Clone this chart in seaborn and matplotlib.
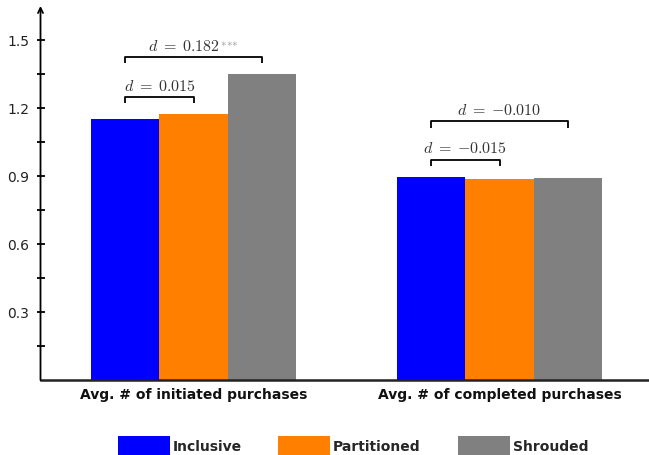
import matplotlib
matplotlib.use("Agg")
import matplotlib.pyplot as plt
import seaborn as sns
import pandas as pd
from matplotlib.patches import Patch
from matplotlib.offsetbox import TextArea, HPacker, AnnotationBbox

# Outcome measures and pricing conditions
measures = ["Avg. # of initiated purchases", "Avg. # of completed purchases"]
conditions = ["Inclusive", "Partitioned", "Shrouded"]

inclusive = [1.150, 0.896]
partitioned = [1.172, 0.887]
shrouded = [1.348, 0.891]

# Effect sizes (Cohen's d) relative to the Inclusive condition
d_partitioned = [0.015, -0.015]
d_shrouded = [0.182, -0.010]
sig_partitioned = ["", ""]
sig_shrouded = ["***", ""]

colors = ["#0000FF", "#FF8000", "#808080"]

df = pd.DataFrame({
    "measure": measures * 3,
    "condition": [c for c in conditions for _ in measures],
    "value": inclusive + partitioned + shrouded,
})

sns.set_style("white")
plt.rcParams["font.family"] = ["DejaVu Sans"]
plt.rcParams["mathtext.fontset"] = "cm"

W, H = 649, 456
fig = plt.figure(figsize=(W / 100, H / 100), dpi=100)
ax = fig.add_axes([40.5 / W, 75 / H, (W - 40.5) / W, 374 / H])

sns.barplot(data=df, x="measure", y="value", hue="condition",
            hue_order=conditions, order=measures, palette=colors,
            width=0.67, saturation=1, errorbar=None, ax=ax, legend=False,
            linewidth=0, edgecolor="none")

ax.set_xlim(-0.5, -0.5 + (W - 40.5) / 306)
ax.set_ylim(0, 374 / 227)
ax.set_xlabel("")
ax.set_ylabel("")

# Axes: left spine with arrow, heavy baseline
for s in ["top", "right", "left"]:
    ax.spines[s].set_visible(False)
ax.spines["bottom"].set_color("#222222")
ax.spines["bottom"].set_linewidth(1.8)
ax.annotate("", xy=(0, 1), xytext=(0, 0), xycoords="axes fraction",
            arrowprops=dict(arrowstyle="->", lw=1.3, color="black",
                            shrinkA=0, shrinkB=0, mutation_scale=9))

ax.set_yticks([0.3, 0.6, 0.9, 1.2, 1.5])
ax.set_yticklabels(["0.3", "0.6", "0.9", "1.2", "1.5"])
ax.set_yticks([0.15, 0.45, 0.75, 1.05, 1.35], minor=True)
ax.tick_params(axis="y", which="both", direction="inout", length=6,
               width=1.3, color="black", left=True, labelsize=10,
               labelcolor="#222222", pad=5)
ax.tick_params(axis="x", length=0, pad=5)
for lbl in ax.get_xticklabels():
    lbl.set_fontweight("bold")
    lbl.set_fontsize(10)
    lbl.set_color("#111111")

# Significance brackets
def centers(j):
    return [b.get_x() + b.get_width() / 2 for b in ax.containers[j]]

c_inc, c_par, c_shr = centers(0), centers(1), centers(2)
bar_vals = [inclusive, partitioned, shrouded]

def bracket(x0, x1, ybot, d, stars):
    top = ybot + 0.027
    ax.plot([x0, x0, x1, x1], [ybot, top, top, ybot], color="black",
            lw=1.3, solid_capstyle="butt", clip_on=False)
    parts = [TextArea(rf"$d\;=\;{{{d:.3f}}}$",
                      textprops=dict(fontsize=11.5, color="#333333"))]
    if stars:
        star_tex = r"$^{" + "".join("{*}" for _ in stars) + "}$"
        parts.append(TextArea(star_tex,
                              textprops=dict(fontsize=11.5, color="#999999")))
    box = HPacker(children=parts, align="baseline", pad=0, sep=0)
    ab = AnnotationBbox(box, ((x0 + x1) / 2, top + 0.018), xycoords="data",
                        box_alignment=(0.5, 0), frameon=False, pad=0)
    ax.add_artist(ab)

for i in range(len(measures)):
    low = max(inclusive[i], partitioned[i]) + 0.048
    high = max(max(v[i] for v in bar_vals) + 0.048, low + 0.168)
    bracket(c_inc[i], c_par[i], low, d_partitioned[i], sig_partitioned[i])
    bracket(c_inc[i], c_shr[i], high, d_shrouded[i], sig_shrouded[i])

# Legend, one entry per condition
legend_x = [118, 278, 458]
for name, col, lx in zip(conditions, colors, legend_x):
    fig.legend(handles=[Patch(facecolor=col, edgecolor="none")], labels=[name],
               loc="lower left", bbox_to_anchor=(lx / W, 0), frameon=False,
               borderpad=0, borderaxespad=0, handlelength=52 / 13.89,
               handleheight=24 / 13.89, handletextpad=0.22,
               prop={"weight": "bold", "size": 10})

fig.savefig("out.png", dpi=100)
